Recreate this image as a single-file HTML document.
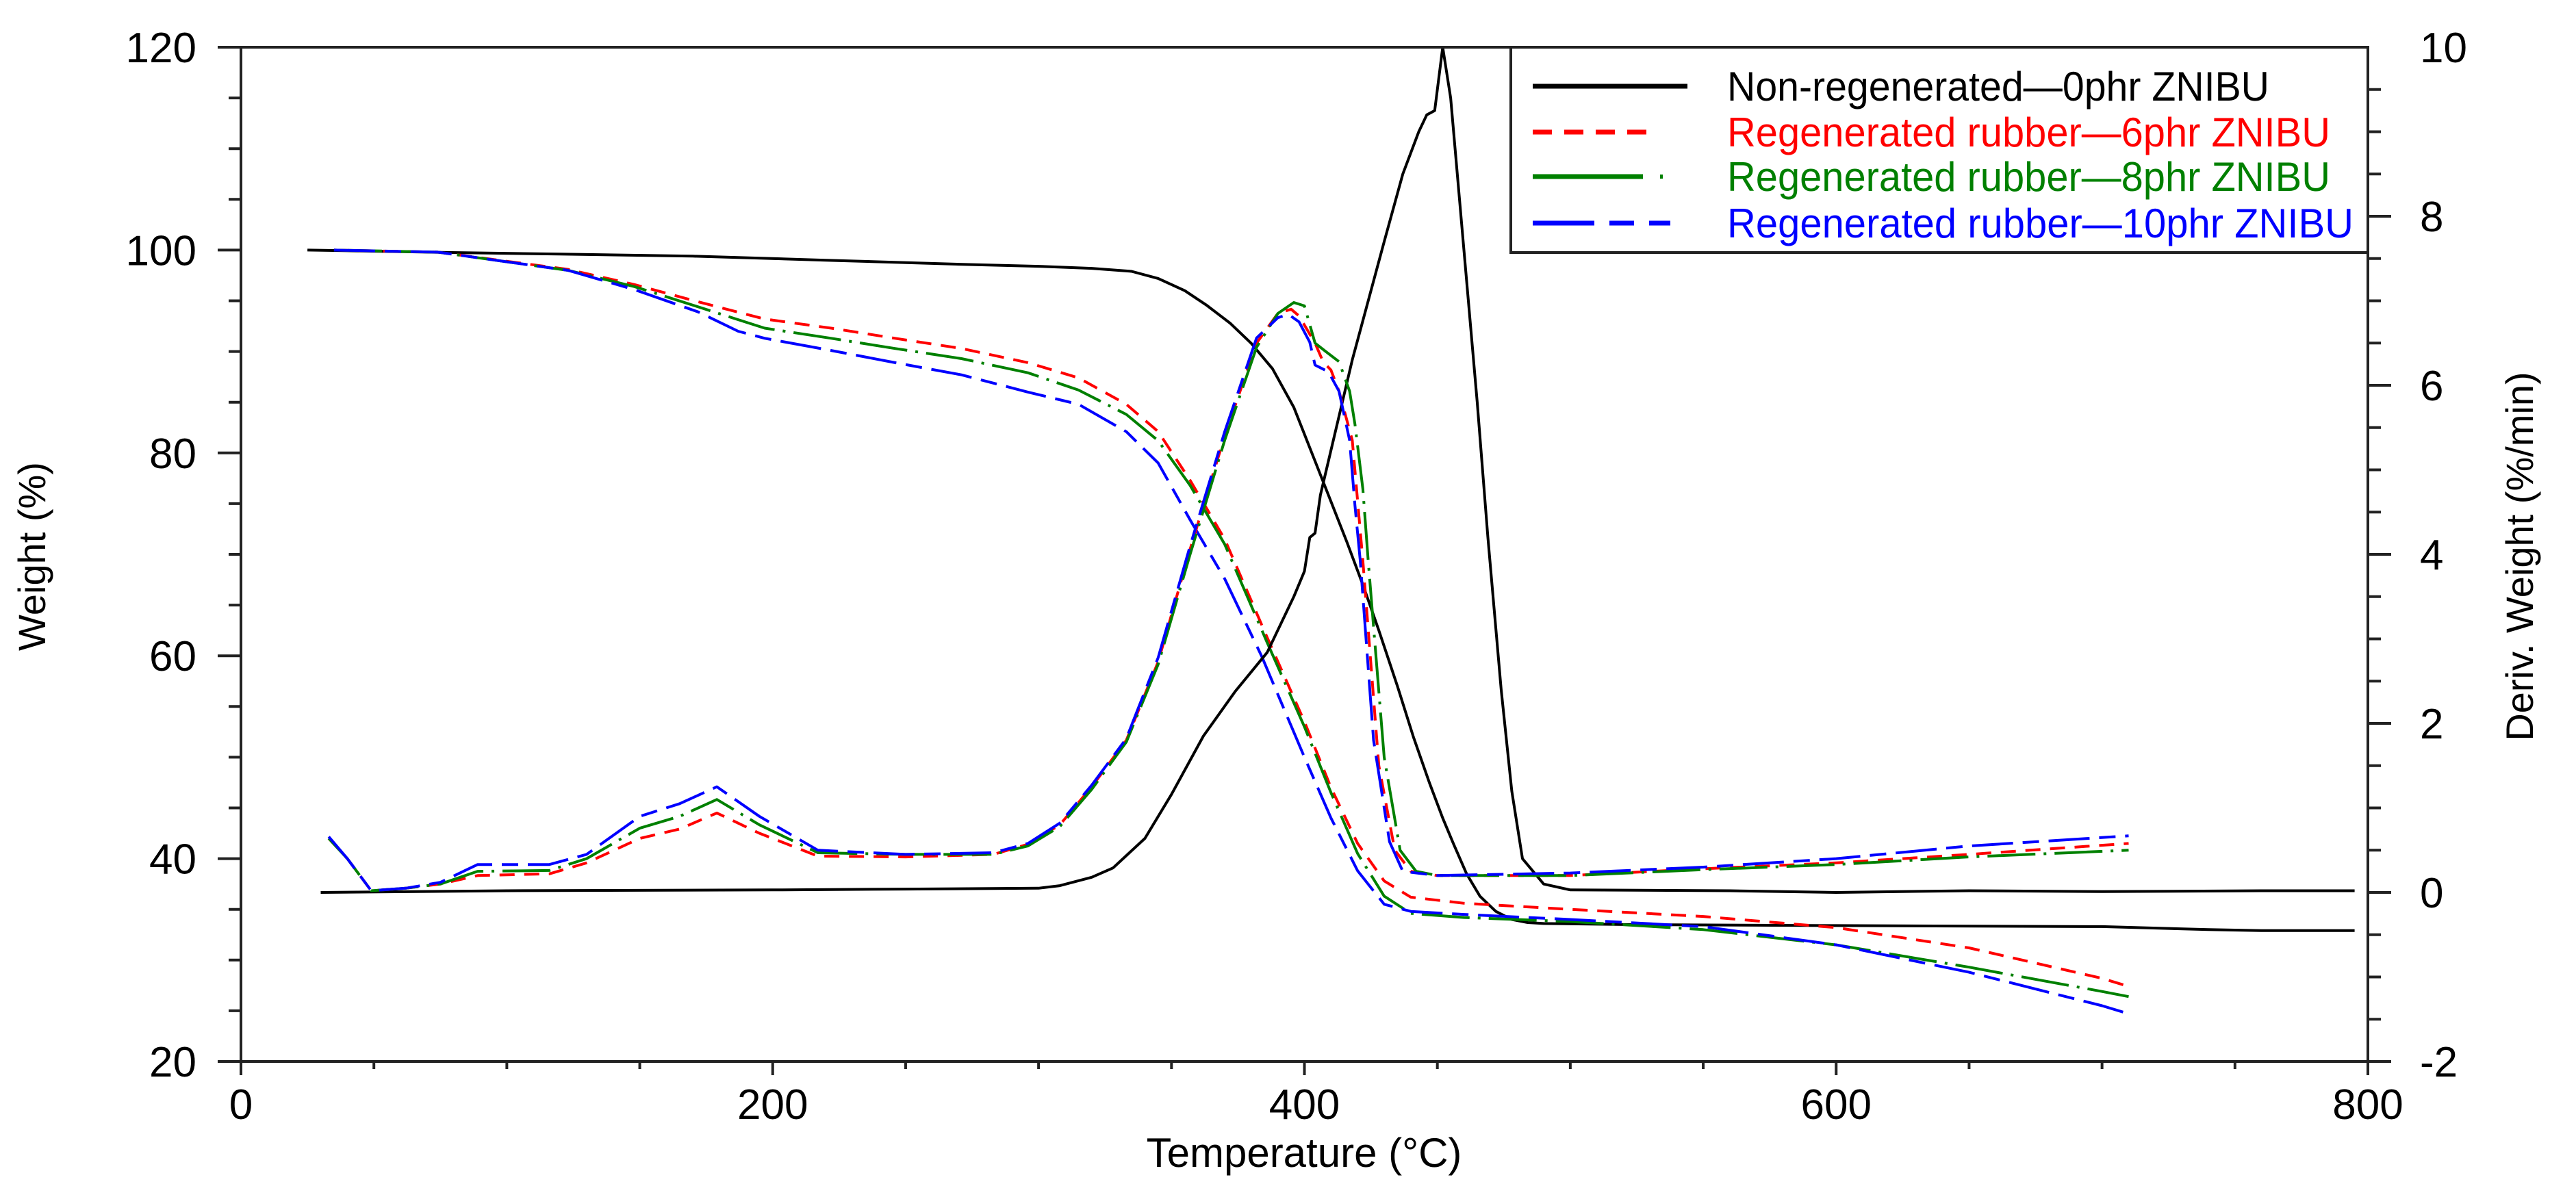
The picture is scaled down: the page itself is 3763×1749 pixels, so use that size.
<!DOCTYPE html>
<html><head><meta charset="utf-8"><style>
html,body{margin:0;padding:0;background:#fff;}
svg{display:block;font-family:"Liberation Sans",Arial,sans-serif;}
</style></head><body>
<svg id="chart" width="3763" height="1749" viewBox="0 0 3763 1749" xmlns="http://www.w3.org/2000/svg">
<g id="marks"></g>
<g id="axes"></g>
<text x="1905" y="1705" font-size="60" text-anchor="middle" fill="#000">Temperature (°C)</text>
<text transform="translate(66,813) rotate(-90)" font-size="56" text-anchor="middle" fill="#000">Weight (%)</text>
<text transform="translate(3700,813) rotate(-90)" font-size="56" text-anchor="middle" fill="#000">Deriv. Weight (%/min)</text>
<g id="legend">
<rect x="2207" y="69" width="1252" height="300" fill="#fff" stroke="#222" stroke-width="4"/>
<line x1="2239" y1="126" x2="2465" y2="126" stroke="#000" stroke-width="7"/>
<line x1="2239" y1="193" x2="2420" y2="193" stroke="#f00" stroke-width="7" stroke-dasharray="28,18"/>
<line x1="2239" y1="258" x2="2400" y2="258" stroke="#008000" stroke-width="7"/>
<line x1="2425" y1="258" x2="2429" y2="258" stroke="#008000" stroke-width="6"/>
<line x1="2239" y1="326" x2="2440" y2="326" stroke="#00f" stroke-width="7" stroke-dasharray="90,22,36,22,36,22"/>
<text x="2523" y="147" font-size="60" fill="#000" textLength="792" lengthAdjust="spacingAndGlyphs">Non-regenerated—0phr ZNIBU</text>
<text x="2523" y="214" font-size="60" fill="#f00" textLength="881" lengthAdjust="spacingAndGlyphs">Regenerated rubber—6phr ZNIBU</text>
<text x="2523" y="279" font-size="60" fill="#008000" textLength="881" lengthAdjust="spacingAndGlyphs">Regenerated rubber—8phr ZNIBU</text>
<text x="2523" y="347" font-size="60" fill="#00f" textLength="915" lengthAdjust="spacingAndGlyphs">Regenerated rubber—10phr ZNIBU</text>
</g>
</svg>
<script>
// ---- data ----
const xTicks = [0,200,400,600,800];
const yLeftTicks = [20,40,60,80,100,120];
const yRightTicks = [-2,0,2,4,6,8,10];
// TGA weight curves (temperature, weight %)
const tgaBlackT = [25,70,120,170,220,270,300,320,335,345,355,363,372,380,388,396,404,410,416,422,428,435,441,447,452,456,461,466,472,478,484,490,520,600,700,740,760,795];
const tgaBlackW = [100,99.8,99.6,99.4,99.0,98.6,98.4,98.2,97.9,97.2,96.0,94.6,92.8,90.8,88.3,84.5,79.2,75.2,71.2,67.0,62.5,57.0,52.0,47.5,44.0,41.5,38.5,36.3,34.8,34.0,33.7,33.6,33.5,33.4,33.3,33.0,32.9,32.9];
const tgaRedT = [35,74,123,148,172,197,222,246,271,296,315,333,345,357,370,386,400,410,420,430,440,460,500,550,600,650,700,710];
const tgaRedW = [100,99.8,98.1,96.6,94.9,93.2,92.3,91.3,90.3,88.9,87.4,84.8,82.1,77.3,71.5,61.8,53.5,47,41.5,37.8,36.2,35.6,35.0,34.3,33.2,31.2,28.2,27.4];
const tgaGreenT = [35,74,123,148,172,197,222,246,271,296,315,333,345,357,370,386,400,410,420,430,440,460,500,550,600,650,700,710];
const tgaGreenW = [100,99.8,98.0,96.4,94.4,92.3,91.3,90.3,89.3,87.9,86.2,83.8,81.2,76.8,71.0,61.3,53,46.5,40.5,36.3,34.6,34.2,33.8,33.0,31.5,29.3,26.9,26.4];
const tgaBlueT = [35,74,123,148,172,187,197,222,246,271,296,315,333,345,357,370,384,400,410,420,430,440,460,500,550,600,650,700,710];
const tgaBlueW = [100,99.8,98.0,96.1,93.9,92.0,91.3,90.1,88.9,87.7,86.0,84.8,82.1,79.0,73.4,67.6,59.9,50,44,38.8,35.5,34.8,34.5,34.0,33.3,31.5,28.8,25.5,24.7];
// DTG derivative curves (temperature, %/min)
const dtgBlackT = [30,100,200,250,300,308,320,328,340,350,362,374,386,396,400,402,404,406,412,418,424,430,437,443,446,449,452,455,460,465,469,474,478,482,490,500,560,600,650,700,760,795];
const dtgBlackD = [0.0,0.02,0.03,0.04,0.05,0.08,0.18,0.29,0.64,1.16,1.85,2.38,2.84,3.5,3.8,4.2,4.25,4.7,5.5,6.3,7.0,7.7,8.5,9.0,9.2,9.25,10.0,9.4,7.6,5.8,4.2,2.4,1.2,0.4,0.1,0.03,0.02,0.0,0.02,0.01,0.02,0.02];
const dtgRedT = [33,40,49,62,75,89,116,130,150,165,179,195,217,250,283,296,308,320,333,345,357,370,382,390,395,398,404,407,410,413,418,422,428,434,440,450,500,550,600,650,710];
const dtgRedD = [0.64,0.4,0.02,0.05,0.1,0.2,0.22,0.35,0.64,0.75,0.94,0.7,0.43,0.42,0.45,0.57,0.8,1.25,1.8,2.73,4.06,5.4,6.5,6.85,6.9,6.82,6.5,6.28,6.18,5.93,5.35,3.92,1.5,0.5,0.25,0.2,0.2,0.28,0.35,0.45,0.58];
const dtgGreenT = [33,40,49,62,75,89,116,130,150,165,179,195,217,250,283,296,308,320,333,345,357,370,382,390,396,400,404,408,413,417,419,422,424,430,436,442,450,500,550,600,650,710];
const dtgGreenD = [0.64,0.4,0.02,0.05,0.1,0.25,0.26,0.4,0.76,0.9,1.1,0.8,0.47,0.45,0.45,0.55,0.78,1.22,1.78,2.7,4.0,5.35,6.45,6.85,6.98,6.94,6.5,6.4,6.28,5.93,5.54,4.77,3.92,1.6,0.5,0.25,0.2,0.2,0.27,0.33,0.42,0.5];
const dtgBlueT = [33,40,49,62,75,89,116,130,150,165,179,195,217,250,283,296,308,320,333,345,357,370,382,390,394,398,402,404,409,413,417,419,421,426,432,437,450,500,550,600,650,710];
const dtgBlueD = [0.66,0.4,0.02,0.05,0.12,0.33,0.33,0.45,0.9,1.05,1.25,0.9,0.5,0.45,0.47,0.58,0.82,1.27,1.82,2.78,4.1,5.45,6.56,6.8,6.84,6.75,6.51,6.24,6.16,5.93,5.35,4.58,3.92,1.8,0.6,0.25,0.2,0.23,0.3,0.4,0.55,0.67];

// ---- axes functions ----
const X0=352, X1=3459, YT=69, YB=1551;
const xs = t => X0 + (t-0)/(800-0)*(X1-X0);
const yl = w => YB - (w-20)/(120-20)*(YB-YT);
const yr = d => YB - (d-(-2))/(10-(-2))*(YB-YT);
const NS='http://www.w3.org/2000/svg';
const marks=document.getElementById('marks');
const axes=document.getElementById('axes');

function mk(tag,attrs,parent){const e=document.createElementNS(NS,tag);for(const k in attrs)e.setAttribute(k,attrs[k]);parent.appendChild(e);return e;}

function drawSeries(T,V,yf,color,dash,name){
  const pts=T.map((t,i)=>xs(t).toFixed(1)+','+yf(V[i]).toFixed(1)).join(' ');
  const p=mk('polyline',{points:pts,fill:'none',stroke:color,'stroke-width':4,'stroke-linejoin':'round'},marks);
  if(dash)p.setAttribute('stroke-dasharray',dash);
  
  
}
drawSeries(tgaBlackT,tgaBlackW,yl,'#000',null,'tga-line-0phr');
drawSeries(tgaRedT,tgaRedW,yl,'#f00','22,14','tga-line-6phr');
drawSeries(tgaGreenT,tgaGreenW,yl,'#008000','70,12,4,12','tga-line-8phr');
drawSeries(tgaBlueT,tgaBlueW,yl,'#00f','60,14,24,14','tga-line-10phr');
drawSeries(dtgBlackT,dtgBlackD,yr,'#000',null,'dtg-line-0phr');
drawSeries(dtgRedT,dtgRedD,yr,'#f00','22,14','dtg-line-6phr');
drawSeries(dtgGreenT,dtgGreenD,yr,'#008000','70,12,4,12','dtg-line-8phr');
drawSeries(dtgBlueT,dtgBlueD,yr,'#00f','60,14,24,14','dtg-line-10phr');

// frame
const ax='#222';
let l;
l=mk('line',{x1:318,y1:YT,x2:X1,y2:YT,stroke:ax,'stroke-width':4},axes);


l=mk('line',{x1:X0,y1:YT,x2:X0,y2:YB+20,stroke:ax,'stroke-width':4},axes);


l=mk('line',{x1:X1,y1:YT,x2:X1,y2:YB+20,stroke:ax,'stroke-width':4},axes);


l=mk('line',{x1:318,y1:YB,x2:3493,y2:YB,stroke:ax,'stroke-width':4},axes);



// x ticks
for(let t=50;t<800;t+=50){
  const major=xTicks.includes(t);
  const e=mk('line',{x1:xs(t),y1:YB,x2:xs(t),y2:YB+(major?20:11),stroke:ax,'stroke-width':4},axes);
  
  
}
xTicks.forEach(t=>{
  const e=mk('text',{x:xs(t),y:1635,'font-size':62,'text-anchor':'middle',fill:'#000'},axes);
  e.textContent=t;
  
  
});
// left ticks
for(let w=25;w<120;w+=5){
  const major=yLeftTicks.includes(w);
  const e=mk('line',{x1:X0-(major?34:18),y1:yl(w),x2:X0,y2:yl(w),stroke:ax,'stroke-width':4},axes);
  
  
}
yLeftTicks.forEach(w=>{
  const e=mk('text',{x:287,y:yl(w)+22,'font-size':62,'text-anchor':'end',fill:'#000'},axes);
  e.textContent=w;
  
  
});
// right ticks
for(let d=-1.5;d<10;d+=0.5){
  const major=yRightTicks.includes(d);
  const e=mk('line',{x1:X1,y1:yr(d),x2:X1+(major?34:19),y2:yr(d),stroke:ax,'stroke-width':4},axes);
  
  
}
yRightTicks.forEach(d=>{
  const e=mk('text',{x:3535,y:yr(d)+22,'font-size':62,'text-anchor':'start',fill:'#000'},axes);
  e.textContent=d;
  
  
});
</script>
</body></html>
